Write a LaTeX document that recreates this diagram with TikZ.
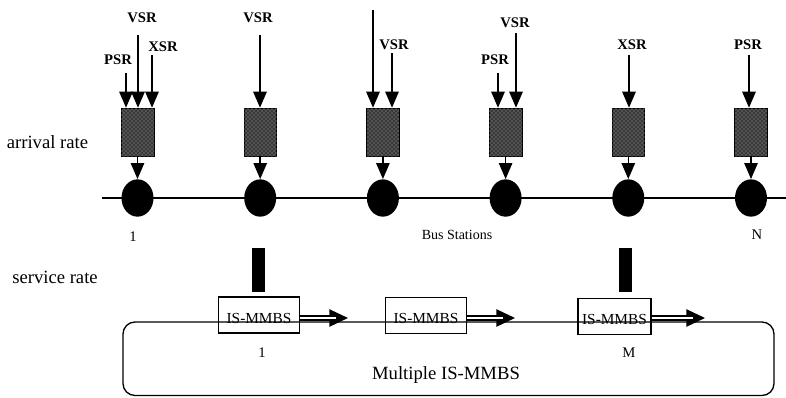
\documentclass[tikz,border=0pt]{standalone}
\usepackage{fontspec}
\setmainfont{Liberation Serif}
\usetikzlibrary{arrows.meta, positioning, shapes.geometric, patterns}

\begin{document}
\begin{tikzpicture}[x=0.75pt, y=-0.75pt,
  stop/.style={ellipse, fill=black, minimum width=24pt, minimum height=28pt, inner sep=0pt},
  queue/.style={draw=black, fill=black!78, minimum width=24.5pt, minimum height=36pt, inner sep=0pt, postaction={pattern=crosshatch dots, pattern color=white!70!black}},
  feed/.style={line width=1.2pt, -{Triangle[width=10pt,length=12pt]}},
  bar/.style={fill=black, minimum width=9.5pt, minimum height=33pt, inner sep=0pt},
  mmbs/.style={draw=black, line width=1.2pt, minimum width=61pt, minimum height=27pt, inner sep=0pt, text height=12.5pt, text depth=0pt, font=\fontsize{11.5}{12}\selectfont},
  pipe/.style={line width=0.9pt, double, double distance=2pt},
  head/.style={line width=1pt, -{Triangle[width=13pt,length=14pt]}},
  src/.style={font=\fontsize{11}{12}\selectfont\bfseries},
  num/.style={font=\fontsize{11}{12}\selectfont},
  tag/.style={font=\fontsize{14}{16}\selectfont}]

\useasboundingbox (0,0) rectangle (786,397);

% bus line and stations
\draw[line width=2pt] (102,198) -- (786,198);
\foreach \i in {1,...,6} {
  \node[stop] (s\i) at ({137.5+122.7*(\i-1)},198) {};
  \node[queue] (q\i) at ({137.5+122.7*(\i-1)},132) {};
  \draw[feed] (q\i) -- (s\i);
}

% arriving requests
\foreach \n/\q/\x/\t in {a/1/126/73, b/1/138/35, c/1/152/55, d/2/260/35, e/3/373/10,
    f/3/392/53, g/4/498/73, h/4/516/33, k/5/629/55, l/6/749/55} {
  \coordinate (in\n) at (\x,\t);
  \draw[feed] (in\n) -- (in\n |- q\q.north);
}
\foreach \n/\x/\y/\t in {psr1/118/60/PSR, vsr1/142/18/VSR, xsr1/163/47/XSR, vsr2/258/18/VSR,
    vsr3/394/45/VSR, psr4/495/60/PSR, vsr4/515/23/VSR, xsr5/632/45/XSR, psr6/748/45/PSR}
  \node[src] (\n) at (\x,\y) {\t};

\node[tag] (arrival) at (47.5,142) {arrival rate};
\node[tag] (service) at (55,277) {service rate};
\node[num] (first) at (133,237) {1};
\node[num] (last) at (757,235) {N};
\node[num, font=\fontsize{10.5}{12}\selectfont] (stations) at (457,235) {Bus Stations};

% IS-MMBS ring
\draw[line width=1pt, rounded corners=9pt] (123,322) rectangle (774,395.5);
\node[mmbs] (m1) at (259,315) {IS-MMBS};
\node[mmbs] (m2) at (426,315.5) {IS-MMBS};
\node[mmbs, minimum width=55pt] (m3) at (614.5,316.5) {IS-MMBS};
\node[bar] (b1) at (258.5,270) {};
\node[bar] (b2) at (625.5,270) {};
\coordinate (t1) at (348,318);
\coordinate (t2) at (515,318);
\coordinate (t3) at (705,318);
\foreach \i in {1,2,3} {
  \draw[head] (m\i.east |- t\i) -- (t\i);
  \draw[pipe] (m\i.east |- t\i) -- ([xshift=-9pt]t\i);
}
\node[num] (one) at (262,353) {1};
\node[num] (many) at (629,353) {M};
\node[tag] (multi) at (446,375) {Multiple IS-MMBS};
\end{tikzpicture}
\end{document}
